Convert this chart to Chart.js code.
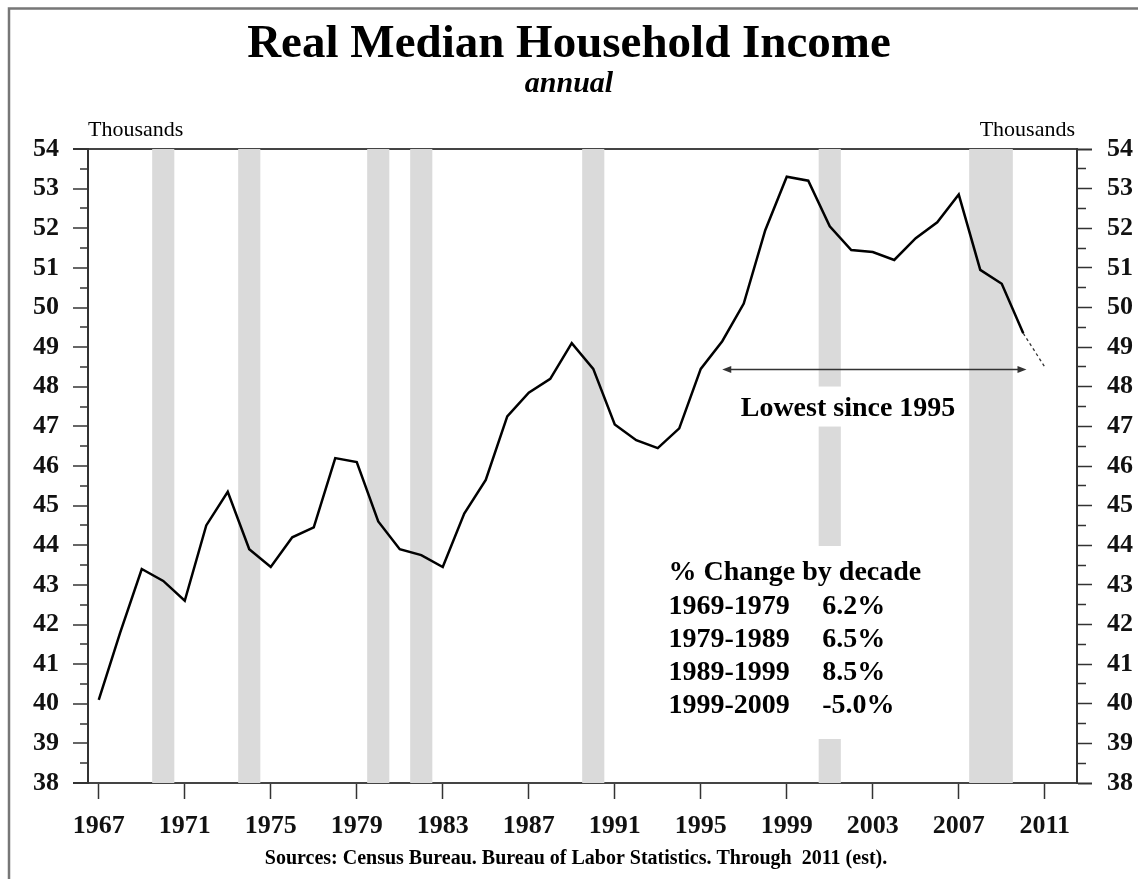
<!DOCTYPE html>
<html>
<head>
<meta charset="utf-8">
<title>Real Median Household Income</title>
<script src="https://cdn.jsdelivr.net/npm/chart.js@4.4.0/dist/chart.umd.min.js"></script>
<style>
  html, body { margin: 0; padding: 0; background: #fff; }
  #wrap { position: relative; width: 1138px; height: 879px; }
</style>
</head>
<body>
<div id="wrap"><canvas id="income-chart"></canvas></div>
<script>
"use strict";

// Real median household income, thousands of dollars
const years = [
  1967, 1968, 1969, 1970, 1971, 1972, 1973, 1974, 1975, 1976, 1977,
  1978, 1979, 1980, 1981, 1982, 1983, 1984, 1985, 1986, 1987, 1988,
  1989, 1990, 1991, 1992, 1993, 1994, 1995, 1996, 1997, 1998, 1999,
  2000, 2001, 2002, 2003, 2004, 2005, 2006, 2007, 2008, 2009, 2010,
];
const income = [
  40.1, 41.8, 43.4, 43.1, 42.6, 44.5, 45.35, 43.9, 43.45, 44.2, 44.45,
  46.2, 46.1, 44.6, 43.9, 43.75, 43.45, 44.8, 45.65, 47.25, 47.85, 48.2,
  49.1, 48.45, 47.05, 46.65, 46.45, 46.95, 48.45, 49.15, 50.1, 51.95, 53.3,
  53.2, 52.05, 51.45, 51.4, 51.2, 51.75, 52.15, 52.85, 50.95, 50.6, 49.35,
];

// 2011 is an estimate, drawn dashed
const estYears = [2010, 2011];
const estIncome = [49.35, 48.5];

// shaded recession years
const recessionYears = [1970, 1974, 1980, 1982, 1990, 2001, 2008, 2009];

const xTickYears = [1967, 1971, 1975, 1979, 1983, 1987, 1991, 1995, 1999, 2003, 2007, 2011];
const yMin = 38;
const yMax = 54;

const decadeLabels = ["1969-1979", "1979-1989", "1989-1999", "1999-2009"];
const decadeChange = ["6.2%", "6.5%", "8.5%", "-5.0%"];

// "Lowest since 1995" arrow: from just after 1995 to 2010, at the 1995 level
const arrowFrom = 1996;
const arrowTo = 2010.15;
const arrowLevel = 48.45;

const FONT = "'Liberation Serif', 'Times New Roman', serif";

function arrowHead(ctx, x, y, dir) {
  ctx.beginPath();
  ctx.moveTo(x, y);
  ctx.lineTo(x + dir * 9, y - 3.5);
  ctx.lineTo(x + dir * 9, y + 3.5);
  ctx.closePath();
  ctx.fill();
}

function whiteBox(ctx, x, y, w, h) {
  ctx.fillStyle = "#fff";
  ctx.fillRect(x, y, w, h);
}

const decor = {
  id: "decor",
  beforeDraw(chart) {
    const ctx = chart.ctx;
    ctx.save();
    ctx.fillStyle = "#fff";
    ctx.fillRect(0, 0, chart.width, chart.height);
    ctx.restore();
  },
  afterDatasetsDraw(chart) {
    const { ctx, scales: { x, y } } = chart;
    ctx.save();

    // arrow
    const ay = Math.round(y.getPixelForValue(arrowLevel)) + 0.5;
    const ax1 = x.getPixelForValue(arrowFrom);
    const ax2 = x.getPixelForValue(arrowTo);
    ctx.strokeStyle = "#333";
    ctx.fillStyle = "#333";
    ctx.lineWidth = 1.5;
    ctx.beginPath();
    ctx.moveTo(ax1 + 4, ay);
    ctx.lineTo(ax2 - 4, ay);
    ctx.stroke();
    arrowHead(ctx, ax1, ay, 1);
    arrowHead(ctx, ax2, ay, -1);

    // "Lowest since 1995"
    ctx.font = "bold 28px " + FONT;
    const low = "Lowest since 1995";
    const lw = ctx.measureText(low).width;
    const lx = x.getPixelForValue(2001.85);
    const ly = y.getPixelForValue(47.45);
    whiteBox(ctx, lx - lw / 2 - 12, ly - 22, lw + 24, 40);
    ctx.fillStyle = "#000";
    ctx.textAlign = "center";
    ctx.textBaseline = "middle";
    ctx.fillText(low, lx, ly);

    // % change by decade
    const px = x.getPixelForValue(1993.5);
    const vx = x.getPixelForValue(2000.65);
    const top = y.getPixelForValue(43.3);
    whiteBox(ctx, px - 13, top - 27, 290, 193);
    ctx.fillStyle = "#000";
    ctx.textAlign = "left";
    ctx.fillText("% Change by decade", px, top);
    decadeLabels.forEach((lab, i) => {
      const ry = top + 34 + i * 33;
      ctx.fillText(lab, px, ry);
      ctx.fillText(decadeChange[i], vx, ry);
    });
    ctx.restore();
  },
  afterDraw(chart) {
    const { ctx, chartArea } = chart;
    ctx.save();
    ctx.fillStyle = "#000";
    ctx.textBaseline = "alphabetic";
    ctx.font = "22px " + FONT;
    ctx.textAlign = "left";
    ctx.fillText("Thousands", chartArea.left, chartArea.top - 13);
    ctx.textAlign = "right";
    ctx.fillText("Thousands", chartArea.right - 2, chartArea.top - 13);

    ctx.font = "bold 20px " + FONT;
    ctx.textAlign = "center";
    ctx.fillText("Sources: Census Bureau. Bureau of Labor Statistics. Through  2011 (est).", 576, 864);

    // outer frame (top and left only, the picture is cropped)
    ctx.strokeStyle = "#777";
    ctx.lineWidth = 2.5;
    ctx.beginPath();
    ctx.moveTo(chart.width, 8.5);
    ctx.lineTo(9, 8.5);
    ctx.lineTo(9, chart.height);
    ctx.stroke();
    ctx.restore();
  },
};

const tickFont = { family: FONT, size: 26, weight: "bold" };
const isMajor = (ctx) => ctx.tick && Number.isInteger(ctx.tick.value);

const ctx = document.getElementById("income-chart").getContext("2d");
const incomeChart = new Chart(ctx, {
  type: "line",
  data: {
    datasets: [
      {
        label: "Real median household income",
        data: years.map((yr, i) => ({ x: yr, y: income[i] })),
        borderColor: "#000",
        borderWidth: 2.5,
        borderJoinStyle: "miter",
        pointRadius: 0,
        tension: 0,
        order: 0,
      },
      {
        label: "Estimate",
        data: estYears.map((yr, i) => ({ x: yr, y: estIncome[i] })),
        borderColor: "#333",
        borderWidth: 1.3,
        borderDash: [3, 3],
        pointRadius: 0,
        tension: 0,
        order: 0,
      },
      {
        type: "bar",
        label: "Recession",
        data: recessionYears.map((yr) => ({ x: yr, y: [yMin, yMax] })),
        backgroundColor: "#dadada",
        borderWidth: 0,
        barPercentage: 1,
        categoryPercentage: 1,
        order: 1,
      },
    ],
  },
  plugins: [decor],
  options: {
    responsive: true,
    maintainAspectRatio: false,
    animation: false,
    events: [],
    layout: { padding: 0 },
    plugins: {
      legend: { display: false },
      tooltip: { enabled: false },
      title: {
        display: true,
        text: "Real Median Household Income",
        color: "#000",
        font: { family: FONT, size: 47, weight: "bold", lineHeight: 1 },
        padding: { top: 21, bottom: 0 },
      },
      subtitle: {
        display: true,
        text: "annual",
        color: "#000",
        font: { family: FONT, size: 30, weight: "bold", style: "italic", lineHeight: 1 },
        padding: { top: 1, bottom: 50 },
      },
    },
    scales: {
      x: {
        type: "linear",
        position: "bottom",
        min: 1966.5,
        max: 2012.5,
        offset: false,  // the bar dataset would otherwise switch this on
        afterBuildTicks: (scale) => {
          scale.ticks = xTickYears.map((v) => ({ value: v }));
        },
        afterFit: (scale) => {
          scale.height = 96;
        },
        ticks: {
          autoSkip: false,
          maxRotation: 0,
          padding: 12,
          color: "#111",
          font: tickFont,
          callback: (v) => String(v),
        },
        grid: {
          offset: false,
          drawOnChartArea: false,
          tickLength: 16,
          tickColor: "#333",
          tickWidth: 1.5,
        },
        border: { color: "#444", width: 2 },
      },
      y: {
        position: "left",
        min: yMin,
        max: yMax,
        afterFit: (scale) => {
          scale.width = 88;
        },
        ticks: {
          stepSize: 0.5,
          autoSkip: false,
          padding: 14,
          color: "#111",
          font: tickFont,
          callback: (v) => (Number.isInteger(v) ? String(v) : ""),
        },
        grid: {
          tickLength: 15,
          color: (c) => (c.tick && c.tick.value === yMax ? "#444" : "rgba(0,0,0,0)"),
          lineWidth: 2,
          tickColor: "#333",
          tickWidth: (c) => (c.tick && (c.tick.value === yMin || c.tick.value === yMax) ? 2 : 1.5),
          // minor ticks: only the 8px next to the axis
          tickBorderDash: (c) => (isMajor(c) ? [] : [8, 7]),
          tickBorderDashOffset: (c) => (isMajor(c) ? 0 : 8),
        },
        border: { color: "#333", width: 2 },
      },
      y2: {
        position: "right",
        min: yMin,
        max: yMax,
        afterFit: (scale) => {
          scale.width = 61;
        },
        ticks: {
          stepSize: 0.5,
          autoSkip: false,
          padding: 15,
          color: "#111",
          font: tickFont,
          callback: (v) => (Number.isInteger(v) ? String(v) : ""),
        },
        grid: {
          drawOnChartArea: false,
          tickLength: 15,
          tickColor: "#333",
          tickWidth: (c) => (c.tick && (c.tick.value === yMin || c.tick.value === yMax) ? 2 : 1.5),
          tickBorderDash: (c) => (isMajor(c) ? [] : [8, 100]),
        },
        border: { color: "#333", width: 2 },
      },
    },
  },
});
</script>
</body>
</html>
